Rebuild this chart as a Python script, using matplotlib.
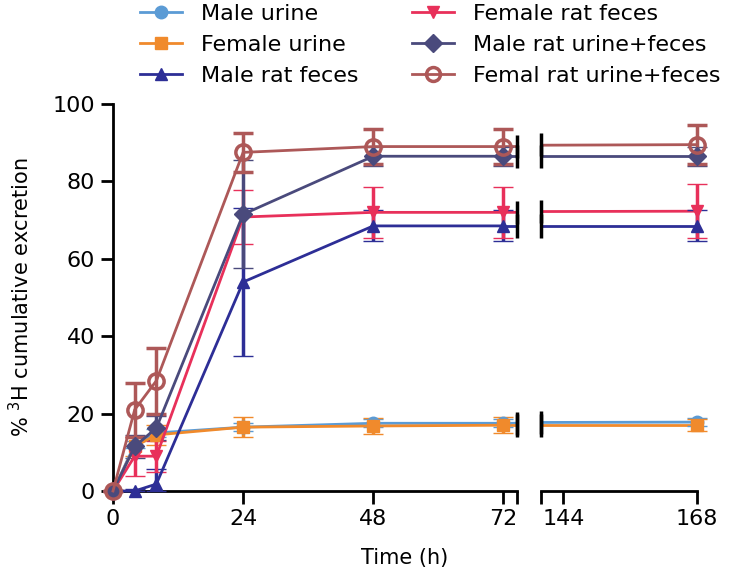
import matplotlib.pyplot as plt
import numpy as np
from matplotlib.lines import Line2D

# Time points (h) and cumulative excretion (% of dose), mean and SD
time = [0, 4, 8, 24, 48, 72, 168]

male_urine = [0, 12, 15, 16.5, 17.5, 17.5, 17.8]
male_urine_sd = [0, 1, 1, 1, 1, 1, 1]
female_urine = [0, 11.5, 14.5, 16.5, 16.8, 17, 17]
female_urine_sd = [0, 2.5, 2.5, 2.5, 2, 2, 1.5]
male_feces = [0, 0, 1.8, 54, 68.5, 68.5, 68.5]
male_feces_sd = [0, 0.5, 4, 19, 4, 4, 4]
female_feces = [0, 9, 9, 70.8, 72, 72, 72.3]
female_feces_sd = [0, 5, 4, 7, 6.5, 6.5, 7]
male_total = [0, 11.5, 16.3, 71.5, 86.5, 86.5, 86.5]
male_total_sd = [0, 3, 3, 14, 2.5, 2.5, 2.5]
female_total = [0, 21, 28.5, 87.5, 89, 89, 89.5]
female_total_sd = [0, 7, 8.5, 5, 4.5, 4.5, 5]

labels = ['Male urine', 'Female urine', 'Male rat feces',
          'Female rat feces', 'Male rat urine+feces', 'Femal rat urine+feces']
colors = ['#5b9bd5', '#f08a2c', '#2d2e96', '#e8305a', '#4a4a7c', '#ad5858']
markers = ['o', 's', '^', 'v', 'D', 'o']
series = [male_urine, female_urine, male_feces, female_feces, male_total, female_total]
errors = [male_urine_sd, female_urine_sd, male_feces_sd, female_feces_sd,
          male_total_sd, female_total_sd]
open_marker = [False, False, False, False, False, True]

plt.rcParams['font.family'] = 'DejaVu Sans'
plt.rcParams['font.size'] = 16

fig = plt.figure(figsize=(7.29, 5.81), dpi=100)
ax1 = fig.add_axes([113 / 729, 90 / 581, 404 / 729, 387 / 581])
ax2 = fig.add_axes([541 / 729, 90 / 581, 156 / 729, 387 / 581], sharey=ax1)

break_left = 74.5
break_right = 140

t = np.array(time)
for vals, sd, c, m, is_open in zip(series, errors, colors, markers, open_marker):
    vals = np.array(vals)
    sd = np.array(sd)
    face = 'none' if is_open else c
    ms = 11 if is_open else 9
    mew = 2.5 if is_open else 1
    # lower bar stops at zero, like the original
    yerr = np.vstack([np.minimum(sd, vals), sd])
    left = t <= 72
    right = t > 72
    for ax, sel in [(ax1, left), (ax2, right)]:
        eb = ax.errorbar(t[sel], vals[sel], yerr=yerr[:, sel], color=c, lw=2,
                         marker=m, ms=ms, mfc=face, mec=c, mew=mew,
                         elinewidth=2.5, capsize=7, capthick=2.5, zorder=3)
        for art in eb.get_children():
            art.set_clip_on(False)
        # connecting segment across the break
        ax.plot(t[5:7], vals[5:7], color=c, lw=2, zorder=2)
    # break bars on the data lines
    ax1.vlines(break_left, vals[5] - 3, vals[5] + 3, color='black', lw=2.5,
               zorder=4, clip_on=False)
    ax2.vlines(break_right, vals[6] - 3, vals[6] + 3, color='black', lw=2.5,
               zorder=4, clip_on=False)

ax1.set_xlim(0, break_left)
ax2.set_xlim(break_right, 168)
ax1.set_ylim(0, 100)

for ax in (ax1, ax2):
    for s in ['top', 'right']:
        ax.spines[s].set_visible(False)
    ax.spines['bottom'].set_linewidth(2)
    ax.spines['left'].set_linewidth(2)
    ax.tick_params(width=2, length=9, direction='out', labelsize=16, pad=4)
    ax.tick_params(which='minor', width=2, length=9, direction='out')

ax2.spines['left'].set_visible(False)
ax2.tick_params(axis='y', left=False, labelleft=False)

ax1.set_yticks([0, 20, 40, 60, 80, 100])
ax1.set_xticks([0, 24, 48, 72])
ax1.set_xticks([break_left], minor=True)
ax2.set_xticks([144, 168])
ax2.set_xticks([break_right], minor=True)

ax1.set_ylabel('% $^3$H cumulative excretion', fontsize=15)
ax1.yaxis.set_label_coords(-80 / 404, 0.5)
fig.text(405 / 729, 1 - 558 / 581, 'Time (h)', ha='center', va='center', fontsize=15)

handles = [Line2D([], [], color=c, lw=2, marker=m, ms=10 if o else 9,
                  mfc=('none' if o else c), mec=c, mew=(2.5 if o else 1))
           for c, m, o in zip(colors, markers, open_marker)]
fig.legend(handles, labels, ncol=2, loc='upper left',
           bbox_to_anchor=(140 / 729, 1 - 4 / 581),
           frameon=False, fontsize=16, handlelength=1.9, handletextpad=0.85,
           columnspacing=2.4, labelspacing=0.5, borderaxespad=0, borderpad=0)

fig.savefig('out.png', dpi=100)
